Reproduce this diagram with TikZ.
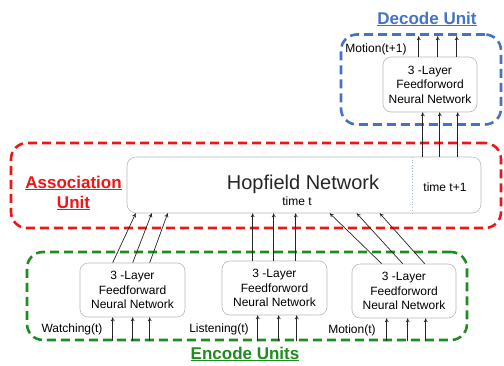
\documentclass[tikz,border=0pt]{standalone}
\usepackage{fontspec}
\setmainfont{Liberation Sans}
\usetikzlibrary{arrows.meta,calc}
\definecolor{myred}{RGB}{240,20,20}
\definecolor{myblue}{RGB}{68,114,196}
\definecolor{mygreen}{RGB}{30,140,30}
\definecolor{boxgray}{RGB}{185,185,185}
\definecolor{dotblue}{RGB}{160,185,225}
\tikzset{
  nnbox/.style={draw=boxgray, line width=0.6pt, rounded corners=8pt, fill=white,
    minimum width=#1, inner sep=0pt, align=center,
    font=\fontsize{12}{14.5}\selectfont},
  nnbox/.default=105pt,
  unitbox/.style={draw=#1, line width=2.6pt, dash pattern=on 9pt off 5pt, rounded corners=16pt, inner sep=0pt},
  arr/.style={-{To[length=4pt,width=4pt]}, line width=0.7pt, draw=black!85},
  lbl/.style={font=\fontsize{12}{14}\selectfont, inner sep=0pt},
  title/.style={font=\fontsize{17}{20}\selectfont\bfseries, text=#1, inner sep=0pt},
}
\newcommand{\ul}[1]{\underline{#1}}
\begin{document}
\begin{tikzpicture}[x=1pt,y=-1pt]
\useasboundingbox (0,0) rectangle (504,365);
% unit boxes
\node[unitbox=myblue, minimum width=160pt, minimum height=90pt] (decu) at (421,79.5) {};
\node[unitbox=myred, minimum width=490pt, minimum height=85pt] (assu) at (256,185.5) {};
\node[unitbox=mygreen, minimum width=440pt, minimum height=88pt] (encu) at (247,296) {};
% titles
\node[title=myblue] (dtitle) at (427,19) {\ul{Decode Unit}};
\node[title=myred, align=center, font=\fontsize{17}{20}\selectfont\bfseries] (atitle) at (73.5,193) {\ul{Association}\\\ul{Unit}};
\node[title=mygreen] (etitle) at (245,354) {\ul{Encode Units}};
% Hopfield
\node[draw=boxgray, line width=0.6pt, rounded corners=9pt, fill=white, minimum width=354pt, minimum height=56pt, inner sep=0pt] (hop) at (304,185) {};
\draw[dotblue, line width=0.8pt, dotted] (hop.north west -| 412,0) -- (hop.south west -| 412,0);
\node[inner sep=0pt, font=\fontsize{20}{22}\selectfont, text=black!85] (hname) at (303,184) {Hopfield Network};
\node[lbl] (tt) at (297,201) {time t};
\node[lbl] (tt1) at (445,187) {time t+1};
% NN boxes
\node[nnbox, minimum height=54pt] (b1) at (132.5,290) {3 -Layer\\Feedforward\\Neural Network};
\node[nnbox, minimum height=54pt] (b2) at (274.5,288) {3 -Layer\\Feedforword\\Neural Network};
\node[nnbox=104pt, minimum height=54pt] (b3) at (404,291) {3 -Layer\\Feedforword\\Neural Network};
\node[nnbox=94pt, minimum height=55pt] (dec) at (430,84.5) {3 -Layer\\Feedforword\\Neural Network};
% labels
\node[lbl] (lw) at (72,329) {Watching(t)};
\node[lbl] (ll) at (219,329) {Listening(t)};
\node[lbl] (lm) at (352,330) {Motion(t)};
\node[lbl] (lm1) at (376,49) {Motion(t+1)};
% inputs into encoders
\foreach \d in {33,53,70} \draw[arr] ([xshift=\d pt]b1.south west |- encu.south) -- ([xshift=\d pt]b1.south west);
\foreach \d in {36,57,75} \draw[arr] ([xshift=\d pt]b2.south west |- encu.south) -- ([xshift=\d pt]b2.south west);
\foreach \d in {35,56,74} \draw[arr] ([xshift=\d pt]b3.south west |- encu.south) -- ([xshift=\d pt]b3.south west);
% encoders to Hopfield
\draw[arr] ([xshift=33pt]b1.north west) -- ([xshift=9pt]hop.south west);
\draw[arr] ([xshift=53pt]b1.north west) -- ([xshift=25pt]hop.south west);
\draw[arr] ([xshift=70pt]b1.north west) -- ([xshift=41pt]hop.south west);
\draw[arr] ([xshift=31pt]b2.north west) -- ([xshift=126pt]hop.south west);
\draw[arr] ([xshift=52pt]b2.north west) -- ([xshift=147pt]hop.south west);
\draw[arr] ([xshift=74pt]b2.north west) -- ([xshift=169pt]hop.south west);
\draw[arr] ([xshift=30pt]b3.north west) -- ([xshift=203pt]hop.south west);
\draw[arr] ([xshift=51pt]b3.north west) -- ([xshift=230pt]hop.south west);
\draw[arr] ([xshift=73pt]b3.north west) -- ([xshift=253pt]hop.south west);
% Hopfield to decoder
\draw[arr] ([xshift=296pt]hop.north west) -- ([xshift=40pt]dec.south west);
\draw[arr] ([xshift=313pt]hop.north west) -- ([xshift=57pt]dec.south west);
\draw[arr] ([xshift=331pt]hop.north west) -- ([xshift=75pt]dec.south west);
% decoder outputs
\foreach \d in {36,55,74} \draw[arr] ([xshift=\d pt]dec.north west) -- ([xshift=\d pt, yshift=-3pt]dec.north west |- decu.north);
\end{tikzpicture}
\end{document}
